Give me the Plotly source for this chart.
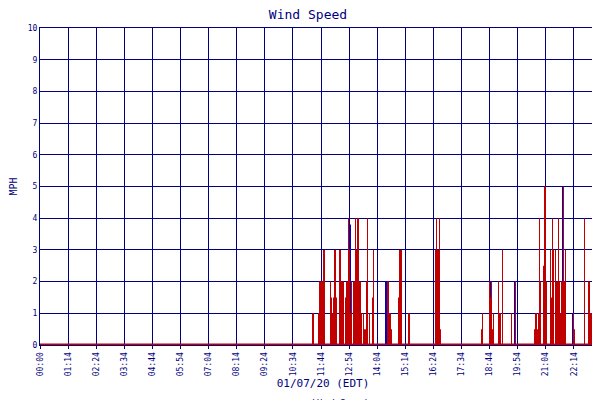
import plotly.graph_objects as go

# minutes after midnight, wind speed (mph)
red_t = [698, 700, 713, 716, 720, 723, 727, 744, 746, 749, 752, 755, 757, 760, 768, 770,
         773, 775, 778, 783, 786, 790, 793, 796, 798, 803, 807, 808, 812, 814, 817, 820,
         824, 829, 832, 836, 839, 844, 852, 854, 892, 894, 897, 900, 919, 922, 926, 946,
         1014, 1016, 1020, 1023, 1026,
         1132, 1134, 1152, 1155, 1157, 1160, 1162, 1175, 1178, 1185, 1208, 1218, 1267, 1270,
         1275, 1277, 1280, 1282, 1290, 1293, 1295, 1298, 1308, 1310, 1313, 1315, 1321, 1323,
         1326, 1328, 1331, 1333, 1336, 1338, 1341, 1343, 1346, 1367, 1369, 1395, 1407, 1410,
         1412, 1428]
red_v = [0.5, 1, 1, 2, 2, 2, 3, 2, 1.5, 1, 1.5, 3, 2, 1.5, 3, 1,
         2, 2, 2, 1.5, 2, 4, 3, 1, 2, 2, 2, 4, 3, 4, 1, 2,
         1, 1, 0.5, 2, 4, 1, 1.5, 3, 2, 1, 1, 0.5, 1.5, 3, 3, 1,
         3, 4, 3, 4, 0.5,
         0.5, 1, 2, 1.5, 2, 0.5, 1, 2, 1, 3, 1, 2, 0.5, 1,
         0.5, 1, 4, 2, 2.5, 5, 0.5, 2, 3, 1.5, 4, 3, 3, 2,
         2, 4, 2, 1, 2, 2, 5, 2, 3, 1, 0.5, 4, 2, 1,
         1, 2]
blue_t = [725, 794, 886, 1154, 1215, 1340, 1366, 1424]
blue_v = [2, 3.8, 2, 2, 2, 5, 1, 2]

tick_vals = [i * 72 for i in range(21)]
tick_text = ["00:00", "01:14", "02:24", "03:34", "04:44", "05:54", "07:04", "08:14",
             "09:24", "10:34", "11:44", "12:54", "14:04", "15:14", "16:24", "17:34",
             "18:44", "19:54", "21:04", "22:14", "00:00"]

RED = "#c00000"
NAVY = "#000080"

fig = go.Figure()
fig.add_bar(x=blue_t, y=blue_v, width=1.2, marker=dict(color="#0000c0", line_width=0), showlegend=False)
fig.add_bar(x=red_t, y=red_v, width=1.6, marker=dict(color=RED, line_width=0), showlegend=False)
fig.add_scatter(x=[0, 1450], y=[0, 0], mode="lines", line=dict(color=RED, width=3),
                name="Wind Speed")

fig.update_layout(
    width=600, height=400, barmode="overlay",
    margin=dict(l=32, r=2, t=20, b=63, autoexpand=False),
    paper_bgcolor="white", plot_bgcolor="white",
    font=dict(family="DejaVu Sans Mono", size=9, color=NAVY),
    title=dict(text="Wind Speed", x=0.5, y=0.995, xanchor="center", yanchor="top",
               font=dict(size=13, color=NAVY)),
    legend=dict(orientation="h", x=0.5, xanchor="center", y=-0.18, yanchor="middle",
                font=dict(size=9, color=NAVY)),
    showlegend=True,
)
fig.update_xaxes(range=[0, 1450], tickvals=tick_vals, ticktext=tick_text, tickangle=-90,
                 showgrid=True, gridcolor=NAVY, gridwidth=1, showline=True, linecolor=NAVY,
                 mirror=True, ticks="outside", ticklen=3, tickcolor=NAVY, zeroline=False,
                 tickfont=dict(size=8), automargin=False,
                 title=dict(text="01/07/20 (EDT)", font=dict(size=11), standoff=4))
fig.update_yaxes(range=[0, 10], dtick=1, showgrid=True, gridcolor=NAVY, gridwidth=1,
                 showline=True, linecolor=NAVY, mirror=True, zeroline=False, automargin=False,
                 tickfont=dict(size=8), title=dict(text="MPH", font=dict(size=10), standoff=8))

fig.write_html("out.html")
